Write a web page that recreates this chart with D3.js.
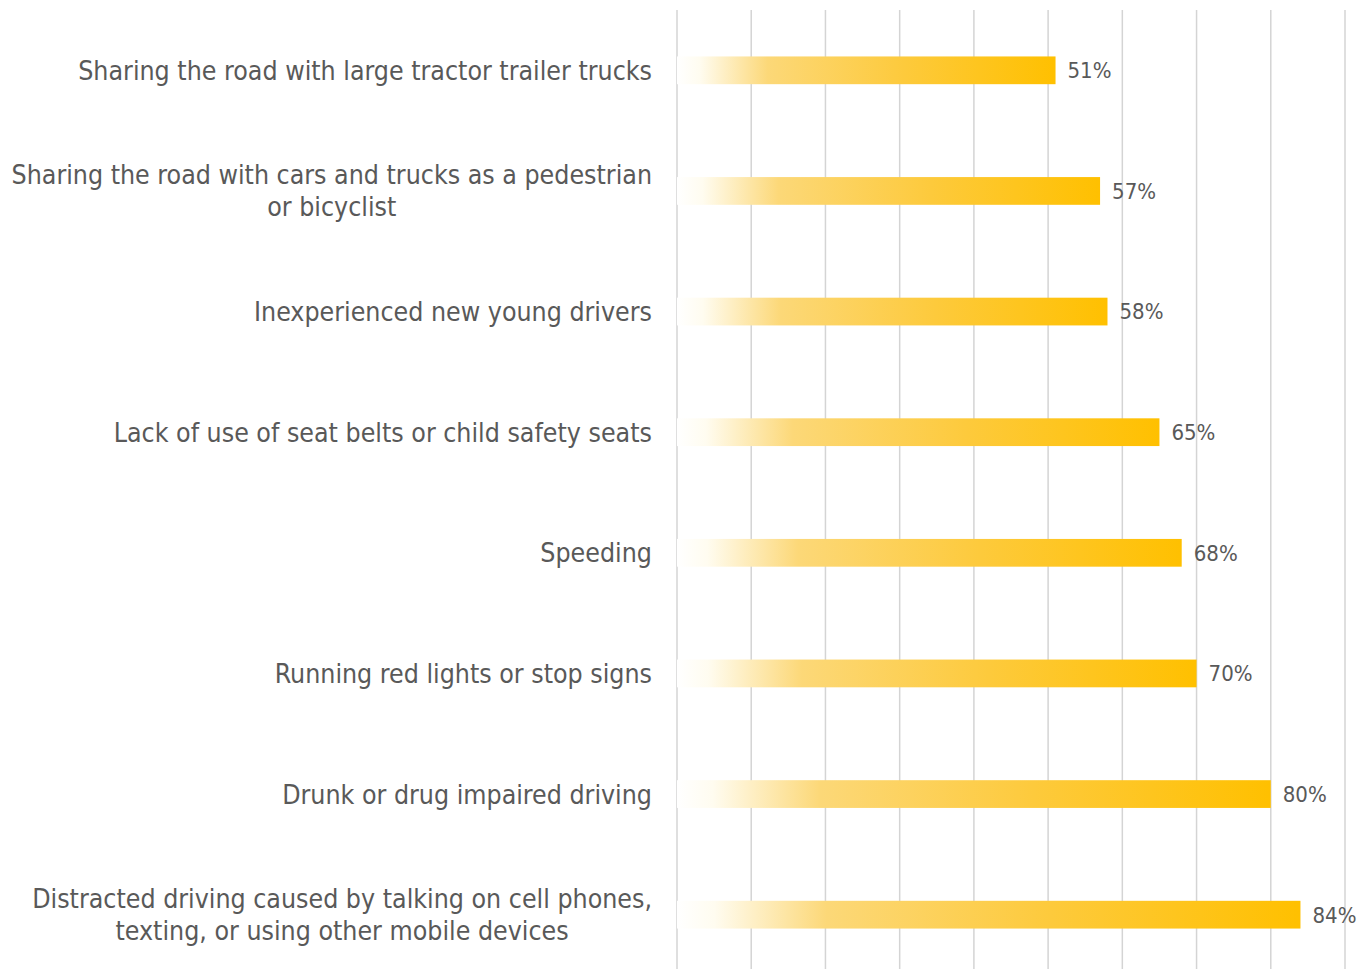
<!DOCTYPE html>
<html>
<head>
<meta charset="utf-8">
<script src="https://cdn.jsdelivr.net/npm/d3@7"></script>
<style>
  body { margin: 0; background: #fff; }
  svg text { font-family: "Liberation Sans Narrow", "DejaVu Sans Condensed", "Roboto Condensed", sans-serif; fill: #595959; }
</style>
</head>
<body>
<div class="chart"></div>
<script>
// categories (top to bottom), each entry is the list of lines of the label
var categories = [
    ["Sharing the road with large tractor trailer trucks"],
    ["Sharing the road with cars and trucks as a pedestrian", "or bicyclist"],
    ["Inexperienced new young drivers"],
    ["Lack of use of seat belts or child safety seats"],
    ["Speeding"],
    ["Running red lights or stop signs"],
    ["Drunk or drug impaired driving"],
    ["Distracted driving caused by talking on cell phones,", "texting, or using other mobile devices"]
];
var values = [51, 57, 58, 65, 68, 70, 80, 84];
var gridTicks = [0, 10, 20, 30, 40, 50, 60, 70, 80, 90];

var dim = { width: 1362, height: 969, plotLeft: 677, plotRight: 1345, top: 10, bottom: 975, labelRight: 652 };

var svg = d3.select(".chart").append("svg")
    .attr("width", dim.width)
    .attr("height", dim.height);

var grad = svg.append("defs").append("linearGradient")
    .attr("id", "barGrad")
    .attr("x1", "0%").attr("x2", "100%")
    .attr("y1", "0%").attr("y2", "0%");
grad.append("stop").attr("offset", "0%").attr("stop-color", "#ffffff");
grad.append("stop").attr("offset", "6%").attr("stop-color", "#fffcf0");
grad.append("stop").attr("offset", "24%").attr("stop-color", "#fcd878");
grad.append("stop").attr("offset", "60%").attr("stop-color", "#fdca3c");
grad.append("stop").attr("offset", "100%").attr("stop-color", "#ffc000");

var x = d3.scaleLinear()
    .domain([0, 90])
    .range([dim.plotLeft, dim.plotRight]);

var y = d3.scaleBand()
    .domain(d3.range(categories.length))
    .range([dim.top, dim.bottom])
    .paddingInner(0.77)
    .paddingOuter(0.385);

// vertical gridlines
svg.append("g")
    .attr("class", "grid")
    .selectAll("line")
    .data(gridTicks)
    .enter()
    .append("line")
    .attr("x1", function(d) { return x(d); })
    .attr("x2", function(d) { return x(d); })
    .attr("y1", dim.top)
    .attr("y2", dim.height)
    .attr("stroke", "#d4d4d4")
    .attr("stroke-width", 1.5);

// bars
svg.append("g")
    .attr("class", "bars")
    .selectAll("rect")
    .data(values)
    .enter()
    .append("rect")
    .attr("x", x(0))
    .attr("y", function(d, i) { return y(i); })
    .attr("width", function(d) { return x(d) - x(0); })
    .attr("height", y.bandwidth())
    .attr("fill", "url(#barGrad)");

// value labels
svg.append("g")
    .attr("class", "values")
    .selectAll("text")
    .data(values)
    .enter()
    .append("text")
    .attr("x", function(d) { return x(d) + 12; })
    .attr("y", function(d, i) { return y(i) + y.bandwidth() / 2; })
    .attr("dy", "0.36em")
    .style("font-size", "22px")
    .text(function(d) { return d + "%"; });

// category labels, multi-line ones are centred in a right-aligned block
var labels = svg.append("g").attr("class", "labels");
categories.forEach(function(lines, i) {
    var cy = y(i) + y.bandwidth() / 2;
    var lineH = 32;
    var g = labels.append("g");
    var texts = lines.map(function(line, j) {
        return g.append("text")
            .attr("y", cy + (j - (lines.length - 1) / 2) * lineH)
            .attr("dy", "0.36em")
            .style("font-size", "26.5px")
            .text(line);
    });
    var widths = texts.map(function(t) { return t.node().getComputedTextLength(); });
    var maxW = d3.max(widths);
    texts.forEach(function(t) {
        t.attr("x", dim.labelRight - maxW / 2).attr("text-anchor", "middle");
    });
});
</script>
</body>
</html>
